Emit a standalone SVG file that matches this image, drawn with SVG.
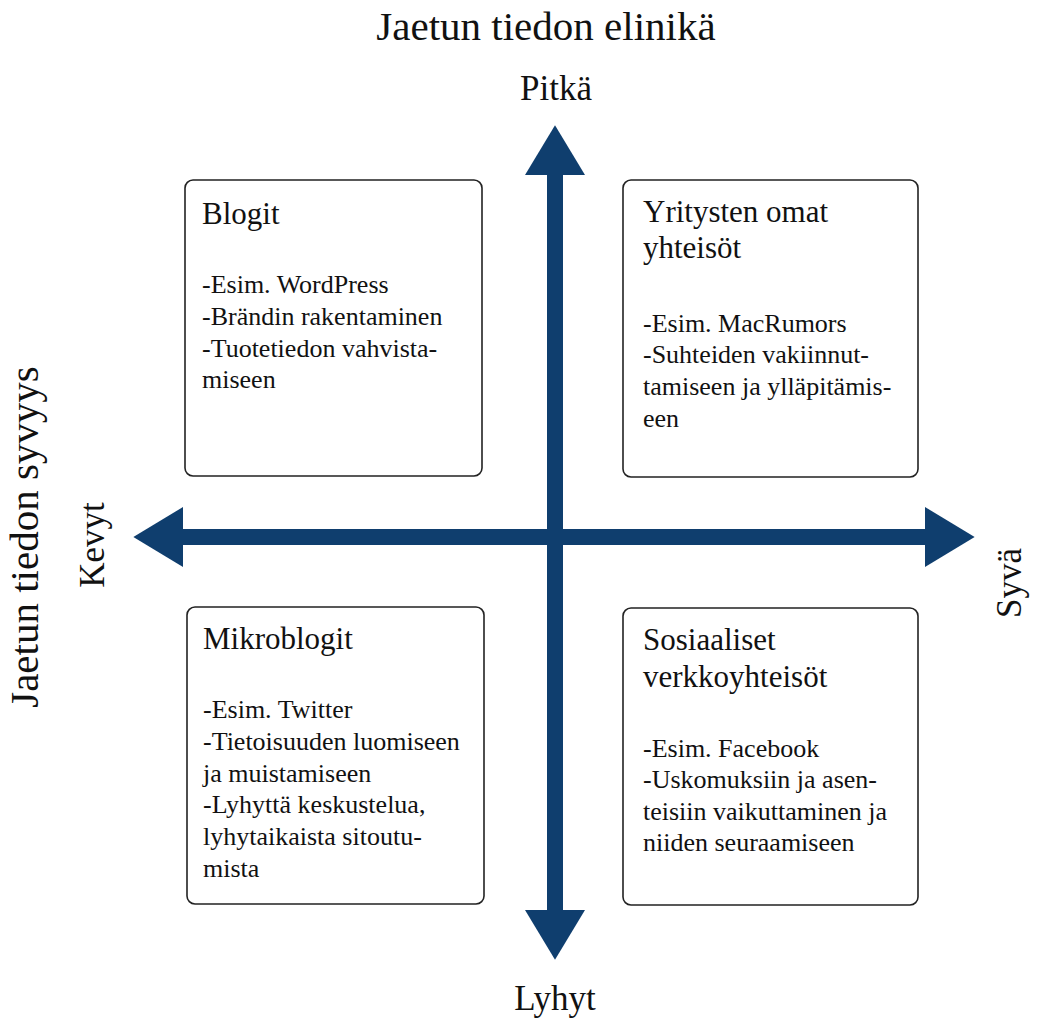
<svg xmlns="http://www.w3.org/2000/svg" width="1038" height="1021" viewBox="0 0 1038 1021">
<style>
text{font-family:"Liberation Serif","Times New Roman",serif;fill:#111}
.big{font-size:41px}
.axis{font-size:35px}
.ttl{font-size:31px}
.body{font-size:26px}
.box{fill:#fff;stroke:#222;stroke-width:1.6}
.ax{stroke:#0f3e6e;stroke-width:16;fill:none}
</style>
<defs>
<marker id="head" markerUnits="userSpaceOnUse" markerWidth="50" markerHeight="60" viewBox="0 0 48 58" refX="0" refY="29" orient="auto-start-reverse">
<path d="M0,0 L48,29 L0,58 z" fill="#0f3e6e"/>
</marker>
</defs>
<rect width="1038" height="1021" fill="#fff"/>
<g id="labels">
<text class="big" x="546" y="40" text-anchor="middle">Jaetun tiedon elinikä</text>
<text class="axis" x="556" y="100" text-anchor="middle">Pitkä</text>
<text class="axis" x="555" y="1010" text-anchor="middle">Lyhyt</text>
<text class="big" transform="translate(38,537) rotate(-90)" text-anchor="middle">Jaetun tiedon syvyys</text>
<text class="axis" transform="translate(104,545) rotate(-90)" text-anchor="middle">Kevyt</text>
<text class="axis" transform="translate(1021,583) rotate(-90)" text-anchor="middle">Syvä</text>
</g>
<g id="connectors">
<line class="ax" x1="555" y1="175" x2="555" y2="910" marker-start="url(#head)" marker-end="url(#head)"/>
<line class="ax" x1="183" y1="537" x2="925" y2="537" marker-start="url(#head)" marker-end="url(#head)"/>
</g>
<g id="blogit">
<rect class="box" x="185" y="180" width="297" height="296" rx="8"/>
<text class="ttl" x="202" y="224">Blogit</text>
<text class="body" x="202" y="293">-Esim. WordPress</text>
<text class="body" x="202" y="325">-Brändin rakentaminen</text>
<text class="body" x="202" y="357">-Tuotetiedon vahvista-</text>
<text class="body" x="202" y="388">miseen</text>
</g>
<g id="yritysten">
<rect class="box" x="623" y="180" width="295" height="297" rx="8"/>
<text class="ttl" x="643" y="222">Yritysten omat</text>
<text class="ttl" x="643" y="258">yhteisöt</text>
<text class="body" x="643" y="332">-Esim. MacRumors</text>
<text class="body" x="643" y="363">-Suhteiden vakiinnut-</text>
<text class="body" x="643" y="395">tamiseen ja ylläpitämis-</text>
<text class="body" x="643" y="427">een</text>
</g>
<g id="mikroblogit">
<rect class="box" x="187" y="607" width="297" height="297" rx="8"/>
<text class="ttl" x="203" y="649">Mikroblogit</text>
<text class="body" x="203" y="718">-Esim. Twitter</text>
<text class="body" x="203" y="750">-Tietoisuuden luomiseen</text>
<text class="body" x="203" y="782">ja muistamiseen</text>
<text class="body" x="203" y="813">-Lyhyttä keskustelua,</text>
<text class="body" x="203" y="845">lyhytaikaista sitoutu-</text>
<text class="body" x="203" y="877">mista</text>
</g>
<g id="sosiaaliset">
<rect class="box" x="623" y="608" width="295" height="297" rx="8"/>
<text class="ttl" x="643" y="650">Sosiaaliset</text>
<text class="ttl" x="643" y="687">verkkoyhteisöt</text>
<text class="body" x="643" y="757">-Esim. Facebook</text>
<text class="body" x="643" y="788">-Uskomuksiin ja asen-</text>
<text class="body" x="643" y="820">teisiin vaikuttaminen ja</text>
<text class="body" x="643" y="851">niiden seuraamiseen</text>
</g>
</svg>
